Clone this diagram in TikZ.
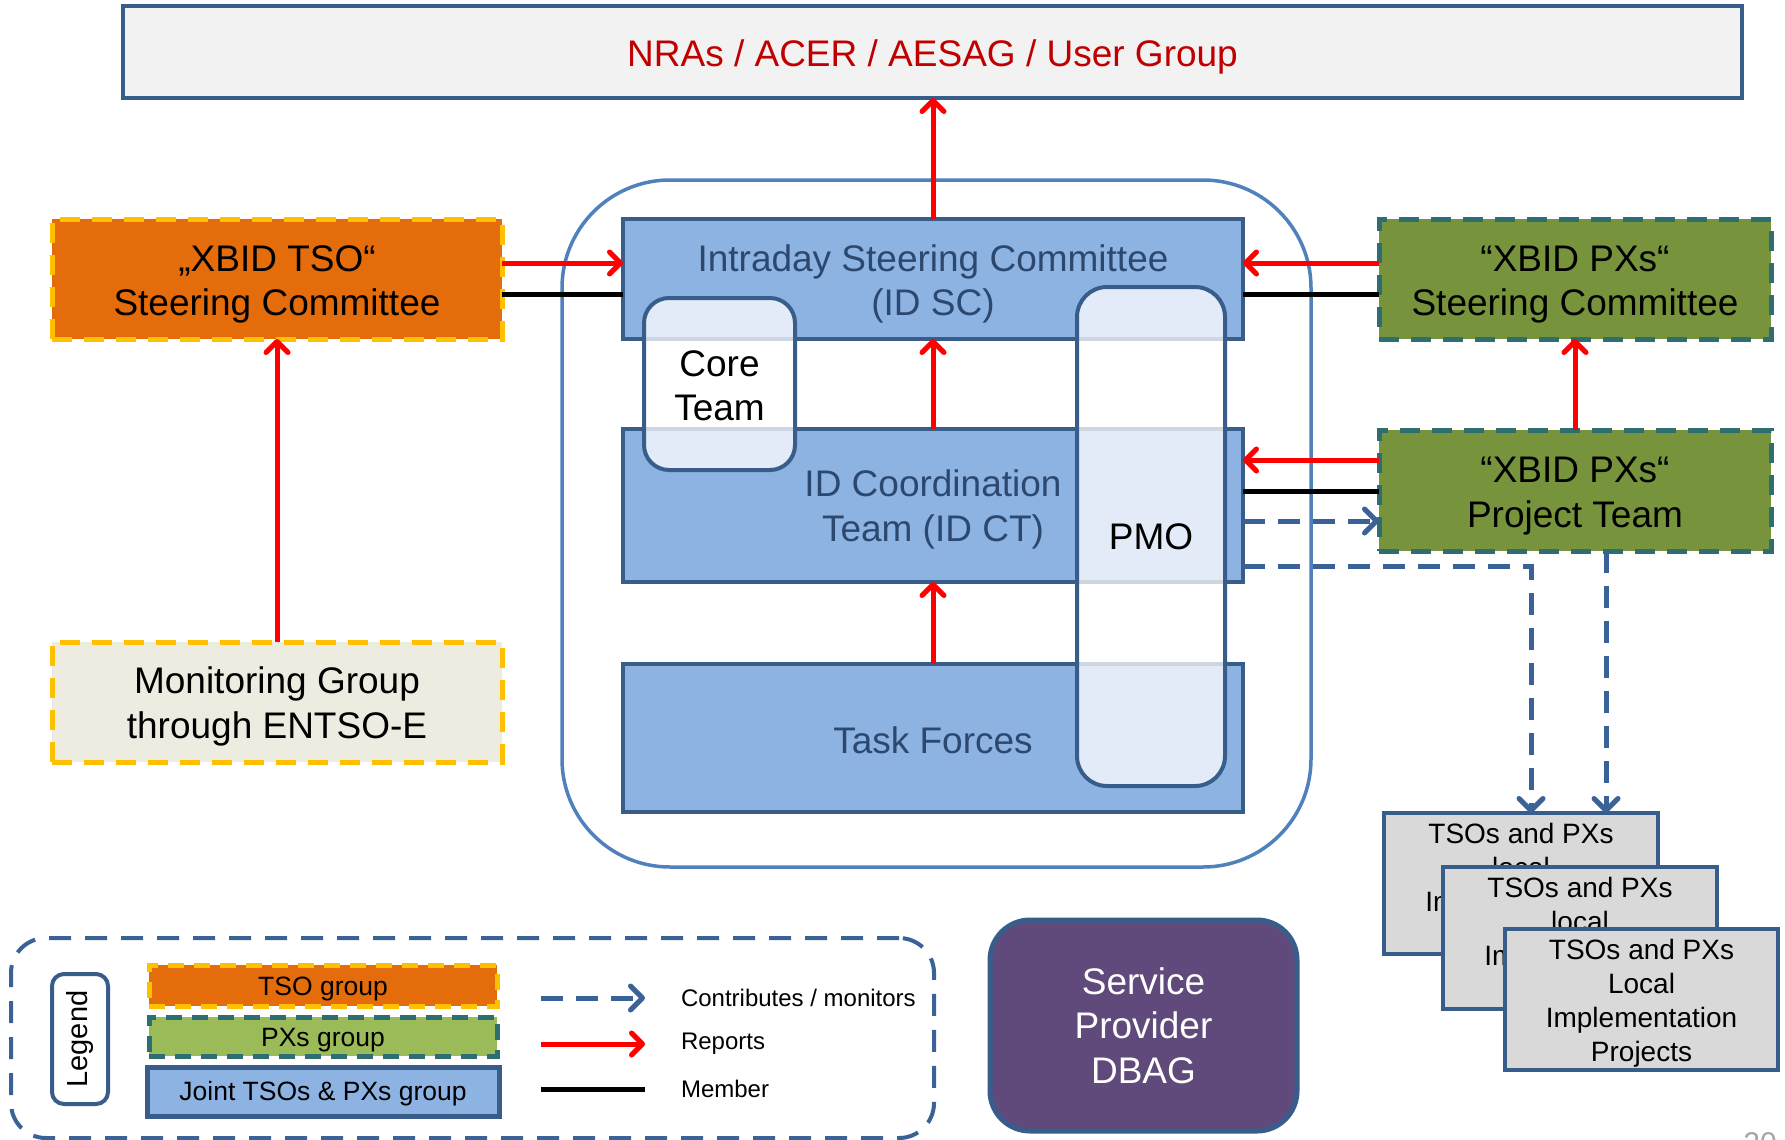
\documentclass[tikz,border=0pt]{standalone}
\usepackage{fontspec}
\setmainfont{Liberation Sans}
\usetikzlibrary{arrows.meta}
\definecolor{boxblue}{HTML}{8DB3E2}
\definecolor{bordblue}{HTML}{385D8A}
\definecolor{contblue}{HTML}{4F81BD}
\definecolor{txtblue}{RGB}{45,72,110}
\definecolor{tsoorange}{HTML}{E46C0A}
\definecolor{tsogold}{HTML}{FFC000}
\definecolor{pxgreen}{HTML}{77933C}
\definecolor{pxlight}{HTML}{9BBB59}
\definecolor{pxteal}{RGB}{46,110,112}
\definecolor{mongray}{HTML}{EEECE1}
\definecolor{topgray}{HTML}{F2F2F2}
\definecolor{locgray}{HTML}{D9D9D9}
\definecolor{sppurple}{HTML}{604A7B}
\definecolor{nrared}{HTML}{C00000}
\definecolor{dashblue}{RGB}{58,98,150}
\definecolor{pagegray}{HTML}{A6A6A6}
\newcommand{\myhstrut}[1]{\rule{0pt}{#1pt}}
\begin{document}
\begin{tikzpicture}[x=1pt,y=-1pt,
  every node/.style={inner sep=0pt, outer sep=0pt, align=center},
  dn/.style={execute at begin node={\rule{0pt}{#1pt}}},
  bigfont/.style={font=\fontsize{37}{44.4}\selectfont},
  jointbox/.style={draw=bordblue, line width=4pt, fill=boxblue, text=txtblue, bigfont},
  tsobox/.style={draw=tsogold, fill=tsoorange, line width=5pt, dash pattern=on 20pt off 12pt, bigfont},
  monbox/.style={draw=tsogold, fill=mongray, line width=5pt, dash pattern=on 20pt off 12pt, bigfont},
  pxbox/.style={draw=pxteal, fill=pxgreen, line width=5pt, dash pattern=on 20pt off 12pt, bigfont},
  ovlbox/.style={draw=bordblue, line width=4pt, fill=white, fill opacity=0.75, text opacity=1, bigfont},
  locbox/.style={draw=bordblue, line width=4pt, fill=locgray, font=\fontsize{28}{34}\selectfont},
  rep/.style={draw=red, line width=5pt, -{Straight Barb[length=11pt,width=22pt,round]}},
  contrib/.style={draw=dashblue, line width=5pt, dash pattern=on 22pt off 13pt, -{Straight Barb[length=12pt,width=24pt,round]}},
  member/.style={draw=black, line width=5pt},
  legfont/.style={font=\fontsize{26.5}{32}\selectfont},
  labfont/.style={font=\fontsize{24}{29}\selectfont}
]
\useasboundingbox (0,0) rectangle (1785,1140);
\fill[white] (0,0) rectangle (1785,1140);

% top box
\node[draw=bordblue, line width=4pt, fill=topgray, text=nrared, bigfont, dn=36,
  minimum width=1619, minimum height=92] (top) at (932.5,52) {NRAs / ACER / AESAG / User Group};

% container
\node[draw=contblue, line width=3.5pt, rounded corners=108pt,
  minimum width=749, minimum height=687] (cont) at (936.5,523.5) {};

% joint boxes
\node[jointbox, minimum width=620, minimum height=120] (idsc) at (933,279) {\myhstrut{37}Intraday Steering Committee\\(ID SC)};
\node[jointbox, minimum width=620, minimum height=153] (idct) at (933,505.5) {\myhstrut{35}ID Coordination\\Team (ID CT)};
\node[jointbox, dn=31.5, minimum width=620, minimum height=148] (tf) at (933,738) {Task Forces};

% overlay boxes
\node[ovlbox, rounded corners=25pt, minimum width=151, minimum height=172] (core) at (719.5,384) {\myhstrut{29}Core\\Team};
\node[ovlbox, rounded corners=30pt, minimum width=148, minimum height=499] (pmo) at (1151,536.5) {PMO};

% left side
\node[tsobox, minimum width=450, minimum height=120] (tsosc) at (277,279) {\myhstrut{37}„XBID TSO“\\Steering Committee};
\node[monbox, minimum width=450, minimum height=120] (mon) at (277,702) {\myhstrut{36}Monitoring Group\\through ENTSO-E};

% right side
\node[pxbox, minimum width=392, minimum height=120] (pxsc) at (1575,279) {\myhstrut{37}“XBID PXs“\\Steering Committee};
\node[pxbox, minimum width=392, minimum height=121] (pxpt) at (1575,490.5) {\myhstrut{37}“XBID PXs“\\Project Team};

% local projects
\node[locbox, minimum width=274, minimum height=141] (b1) at (1521,883.5) {\myhstrut{27}TSOs and PXs\\local\\Implementation\\Projects};
\node[locbox, minimum width=274, minimum height=142] (b2) at (1580,938) {\myhstrut{27}TSOs and PXs\\local\\Implementation\\Projects};
\node[locbox, minimum width=273, minimum height=141] (b3) at (1641.5,999.5) {\myhstrut{27}TSOs and PXs\\Local\\Implementation\\Projects};

% service provider
\node[draw=bordblue, line width=5pt, fill=sppurple, text=white, bigfont, rounded corners=40pt,
  minimum width=307, minimum height=211] (sp) at (1143.5,1025.5) {Service\\Provider\\DBAG};

% helper coordinates
\coordinate (yA) at (0,263);
\coordinate (yB) at (0,294);
\coordinate (yC) at (0,460);
\coordinate (yD) at (0,491);
\coordinate (yE) at (0,521);
\coordinate (bend) at (1531,566);
\coordinate (xr) at (1606,0);

% connectors
\draw[rep] (idsc.north) -- (idsc.north |- top.south);
\draw[rep] (idct.north) -- (idsc.south);
\draw[rep] (tf.north) -- (idct.south);
\draw[rep] (mon.north) -- (tsosc.south);
\draw[rep] (pxpt.north) -- (pxsc.south);
\draw[rep] (tsosc.east |- yA) -- (idsc.west |- yA);
\draw[member] (tsosc.east |- yB) -- (idsc.west |- yB);
\draw[rep] (pxsc.west |- yA) -- (idsc.east |- yA);
\draw[member] (pxsc.west |- yB) -- (idsc.east |- yB);
\draw[rep] (pxpt.west |- yC) -- (idct.east |- yC);
\draw[member] (pxpt.west |- yD) -- (idct.east |- yD);
\draw[contrib] (idct.east |- yE) -- (pxpt.west |- yE);
\draw[contrib] (idct.east |- bend) -| (bend |- b1.north);
\draw[contrib] (pxpt.south -| xr) -- (b1.north -| xr);

% legend
\node[draw=dashblue, line width=4pt, dash pattern=on 22pt off 14pt, rounded corners=35pt,
  minimum width=923, minimum height=200] (legend) at (472.5,1038) {};
\node[draw=bordblue, line width=4pt, fill=white, rounded corners=12pt, rotate=90,
  minimum width=130, minimum height=56, font=\fontsize{29}{34}\selectfont] (legtitle) at (80,1039) {Legend};
\node[draw=tsogold, fill=tsoorange, line width=5pt, dash pattern=on 16pt off 10pt, legfont, dn=26,
  minimum width=348, minimum height=41] (legtso) at (323,985.5) {TSO group};
\node[draw=pxteal, fill=pxlight, line width=5pt, dash pattern=on 16pt off 10pt, legfont, dn=26,
  minimum width=348, minimum height=39] (legpx) at (323,1036.5) {PXs group};
\node[draw=bordblue, fill=boxblue, line width=5pt, legfont, dn=24,
  minimum width=352, minimum height=49] (legjoint) at (323,1091.5) {Joint TSOs \& PXs group};

\coordinate (l1a) at (541,998);
\coordinate (l1b) at (645,998);
\coordinate (l2a) at (541,1044);
\coordinate (l2b) at (645,1044);
\coordinate (l3a) at (541,1089);
\coordinate (l3b) at (645,1089);
\draw[contrib] (l1a) -- (l1b);
\draw[rep] (l2a) -- (l2b);
\draw[member] (l3a) -- (l3b);
\node[anchor=west, labfont] (lab1) at (681,998) {Contributes / monitors};
\node[anchor=west, labfont] (lab2) at (681,1044) {Reports};
\node[anchor=west, labfont] (lab3) at (681,1089) {Member};

% page number (cut at the lower edge)
\node[anchor=north, text=pagegray, font=\fontsize{30}{36}\selectfont] (pageno) at (1760,1133) {20};
\end{tikzpicture}
\end{document}
